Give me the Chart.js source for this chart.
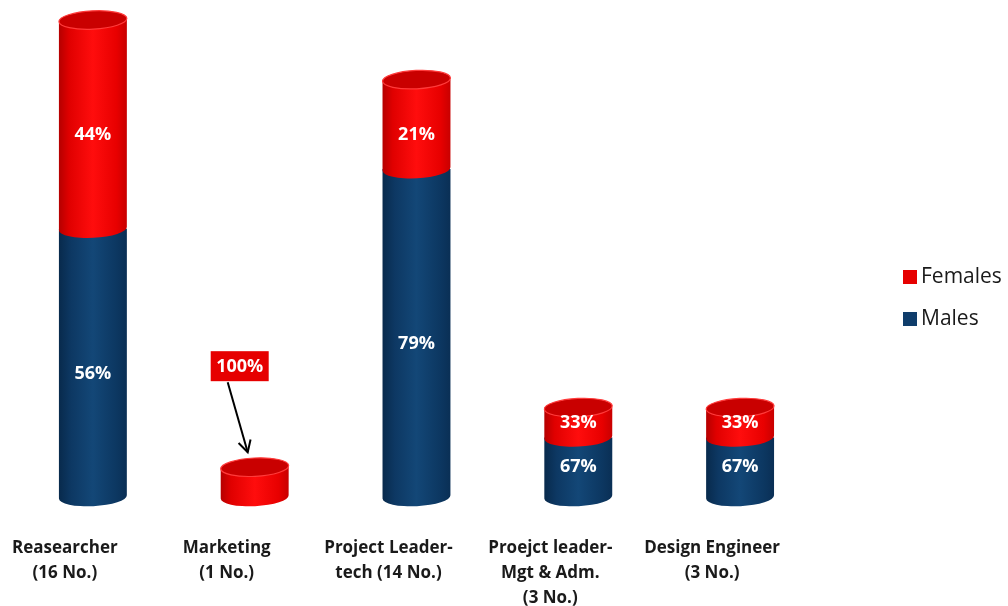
<!DOCTYPE html>
<html>
<head>
<meta charset="utf-8">
<title>Staff by role and gender</title>
<script src="https://cdn.jsdelivr.net/npm/chart.js@4/dist/chart.umd.min.js"></script>
<style>
  html, body { margin: 0; padding: 0; background: #fff; }
  canvas { display: block; }
</style>
</head>
<body>
<canvas id="chart-roles" width="1008" height="606"></canvas>
<script>
// categories (head count in brackets)
const roleLabels = [
    ["Reasearcher", "(16 No.)"],
    ["Marketing", "(1 No.)"],
    ["Project Leader-", "tech (14 No.)"],
    ["Proejct leader-", "Mgt & Adm.", "(3 No.)"],
    ["Design Engineer", "(3 No.)"]
];

// people per role
const maleCounts = [9, 0, 11, 2, 2];
const femaleCounts = [7, 1, 3, 1, 1];

const seriesNames = ["Males", "Females"];
const seriesColors = ["#0f3d6b", "#e60000"];

// shading for the cylinder bodies and lids
const shades = [
    {
        body: [[0, "#082a4c"], [0.18, "#0d3863"], [0.5, "#134777"], [0.85, "#0c3761"], [1, "#0a2f55"]],
        top: "#0c3660",
        rim: "#1f5a8e"
    },
    {
        body: [[0, "#b50000"], [0.15, "#e00000"], [0.5, "#ff0d0d"], [0.85, "#e80000"], [1, "#c80000"]],
        top: "#c90000",
        rim: "#ff3b3b"
    }
];

const TILT = -0.05;

function drawSegment(ctx, bar, shade, isTop) {
    const { x, y, base, width } = bar.getProps(["x", "y", "base", "width"], true);
    const rx = width / 2;
    const ry = rx * 0.27;
    const left = x - rx;

    const g = ctx.createLinearGradient(left, 0, left + width, 0);
    shade.body.forEach(([o, c]) => g.addColorStop(o, c));

    ctx.save();
    ctx.beginPath();
    ctx.moveTo(left, y);
    ctx.lineTo(left, base);
    ctx.ellipse(x, base, rx, ry, TILT, Math.PI, 0, true);
    ctx.lineTo(left + width, y);
    ctx.closePath();
    ctx.fillStyle = g;
    ctx.fill();

    if (isTop) {
        ctx.beginPath();
        ctx.ellipse(x, y, rx, ry, TILT, 0, Math.PI * 2);
        ctx.fillStyle = shade.top;
        ctx.fill();
        ctx.lineWidth = 1.2;
        ctx.strokeStyle = shade.rim;
        ctx.stroke();
    }
    ctx.restore();
}

const cylinderPlugin = {
    id: "cylinders",
    afterDatasetsDraw(chart) {
        const ctx = chart.ctx;
        const datasets = chart.data.datasets;
        chart.data.labels.forEach((label, i) => {
            let topIdx = -1;
            datasets.forEach((ds, d) => { if (ds.data[i] > 0) topIdx = d; });
            datasets.forEach((ds, d) => {
                if (!(ds.data[i] > 0)) return;
                drawSegment(ctx, chart.getDatasetMeta(d).data[i], shades[d], d === topIdx);
            });
        });
    }
};

// percentage labels, single-segment bars get a callout box with an arrow
const percentPlugin = {
    id: "percentLabels",
    afterDatasetsDraw(chart) {
        const ctx = chart.ctx;
        const datasets = chart.data.datasets;
        ctx.save();
        ctx.font = "bold 18px 'Open Sans'";
        ctx.textAlign = "center";
        ctx.textBaseline = "middle";
        chart.data.labels.forEach((label, i) => {
            const total = datasets.reduce((s, ds) => s + ds.data[i], 0);
            datasets.forEach((ds, d) => {
                const v = ds.data[i];
                if (!(v > 0)) return;
                const pct = Math.round(v / total * 100) + "%";
                const bar = chart.getDatasetMeta(d).data[i];
                const { x, y, base } = bar.getProps(["x", "y", "base"], true);

                if (v === total && total === 1) {
                    const bx = x - 15, by = y - 116;
                    const w = 58, h = 30;
                    ctx.fillStyle = seriesColors[d];
                    ctx.fillRect(bx - w / 2, by, w, h);
                    ctx.fillStyle = "#fff";
                    ctx.fillText(pct, bx, by + h / 2 + 1);

                    // arrow down to the lid
                    const x0 = x - 27, y0 = by + h + 1;
                    const x1 = x - 7, y1 = y - 15;
                    ctx.strokeStyle = "#000";
                    ctx.lineWidth = 2;
                    ctx.beginPath();
                    ctx.moveTo(x0, y0);
                    ctx.lineTo(x1, y1);
                    ctx.stroke();
                    const ang = Math.atan2(y1 - y0, x1 - x0);
                    ctx.beginPath();
                    ctx.moveTo(x1 - 13 * Math.cos(ang - 0.5), y1 - 13 * Math.sin(ang - 0.5));
                    ctx.lineTo(x1, y1);
                    ctx.lineTo(x1 - 13 * Math.cos(ang + 0.5), y1 - 13 * Math.sin(ang + 0.5));
                    ctx.stroke();
                    return;
                }

                const h = base - y;
                const shift = h > 60 ? 11 : 0;
                ctx.fillStyle = "#fff";
                ctx.fillText(pct, x, (y + base) / 2 + shift);
            });
        });
        ctx.restore();
    }
};

// legend on the right, Females listed first
const sideLegendPlugin = {
    id: "sideLegend",
    afterDraw(chart) {
        const ctx = chart.ctx;
        ctx.save();
        ctx.font = "500 21px 'Open Sans'";
        ctx.textBaseline = "middle";
        ctx.textAlign = "left";
        const order = [1, 0];
        order.forEach((d, k) => {
            const cy = 277 + k * 42;
            ctx.fillStyle = seriesColors[d];
            ctx.fillRect(903, cy - 7, 14, 14);
            ctx.fillStyle = "#1a1a1a";
            ctx.fillText(seriesNames[d], 921, cy);
        });
        ctx.restore();
    }
};

const roleChart = new Chart(document.getElementById("chart-roles"), {
    type: "bar",
    data: {
        labels: roleLabels,
        datasets: [
            { label: seriesNames[0], data: maleCounts, backgroundColor: "transparent" },
            { label: seriesNames[1], data: femaleCounts, backgroundColor: "transparent" }
        ]
    },
    plugins: [cylinderPlugin, percentPlugin, sideLegendPlugin],
    options: {
        responsive: false,
        animation: false,
        categoryPercentage: 1,
        barPercentage: 0.42,
        layout: {
            padding: { top: 20, left: 12, right: 187, bottom: 0 }
        },
        scales: {
            x: {
                stacked: true,
                grid: { display: false },
                border: { display: false },
                afterFit(scale) { scale.height = 109; },
                ticks: {
                    padding: 31,
                    labelOffset: -28,
                    maxRotation: 0,
                    color: "#1a1a1a",
                    font: { family: "'Open Sans'", size: 17, weight: "bold", lineHeight: 1.47 }
                }
            },
            y: {
                stacked: true,
                display: false,
                min: 0,
                max: 16
            }
        },
        plugins: {
            legend: { display: false },
            tooltip: { enabled: false }
        }
    }
});
</script>
</body>
</html>
